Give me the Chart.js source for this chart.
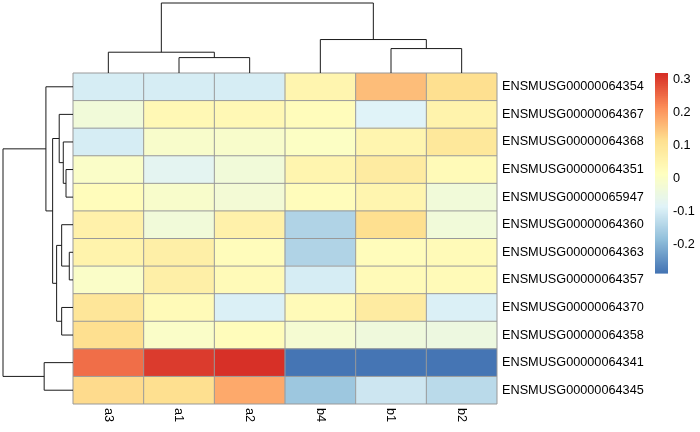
<!DOCTYPE html>
<html>
<head>
<meta charset="utf-8">
<script src="https://cdn.jsdelivr.net/npm/chart.js@4.4.0/dist/chart.umd.min.js"></script>
<style>
  body { margin: 0; background: #fff; }
  #wrap { width: 700px; height: 432px; }
</style>
</head>
<body>
<div id="wrap"><canvas id="heatmap" width="700" height="432"></canvas></div>
<script>
// column order as clustered
const samples = ['a3', 'a1', 'a2', 'b4', 'b1', 'b2'];
// row order as clustered, top to bottom
const genes = [
  'ENSMUSG00000064354', 'ENSMUSG00000064367', 'ENSMUSG00000064368', 'ENSMUSG00000064351',
  'ENSMUSG00000065947', 'ENSMUSG00000064360', 'ENSMUSG00000064363', 'ENSMUSG00000064357',
  'ENSMUSG00000064370', 'ENSMUSG00000064358', 'ENSMUSG00000064341', 'ENSMUSG00000064345'
];

// values per sample, same order as genes
const a3 = [-0.096, -0.026, -0.094, 0.004, 0.023, 0.059, 0.053, 0.001, 0.101, 0.117, 0.252, 0.122];
const a1 = [-0.096, 0.035, -0.002, -0.074, -0.002, -0.026, 0.065, 0.065, 0.029, 0.001, 0.301, 0.119];
const a2 = [-0.096, 0.035, -0.002, -0.026, -0.020, 0.059, 0.023, 0.029, -0.092, 0.023, 0.319, 0.180];
const b4 = [0.047, 0.023, 0.010, 0.047, 0.023, -0.144, -0.141, -0.098, 0.029, -0.017, -0.286, -0.165];
const b1 = [0.158, -0.086, 0.047, 0.077, 0.047, 0.117, 0.023, 0.029, 0.083, -0.032, -0.286, -0.105];
const b2 = [0.117, 0.053, 0.095, 0.029, -0.026, -0.026, 0.029, 0.029, -0.092, -0.038, -0.286, -0.129];

// dendrograms, hclust style: negative = leaf (1-based display position), positive = earlier merge
const colMerge = [
  [-2, -3, 0.22],
  [-1, 1, 0.297],
  [-5, -6, 0.349],
  [-4, 3, 0.478],
  [2, 4, 1.0]
];
const rowMerge = [
  [-7, -8, 0.053],
  [-4, -5, 0.10],
  [-3, 2, 0.139],
  [-6, 1, 0.162],
  [-9, -10, 0.162],
  [-2, 3, 0.197],
  [4, 5, 0.234],
  [6, 7, 0.291],
  [-1, 8, 0.387],
  [-11, -12, 0.412],
  [9, 10, 1.0]
];

const legendTicks = [0.3, 0.2, 0.1, 0, -0.1, -0.2];

const columns = [a3, a1, a2, b4, b1, b2];
const allVals = columns.flat();
const vmin = Math.min(...allVals);
const vmax = Math.max(...allVals);

// rev(brewer.pal(7, "RdYlBu")) ramped to 100 colours
const pal = ['#4575B4', '#91BFDB', '#E0F3F8', '#FFFFBF', '#FEE090', '#FC8D59', '#D73027'];
function hexRgb(h) {
  return [parseInt(h.slice(1, 3), 16), parseInt(h.slice(3, 5), 16), parseInt(h.slice(5, 7), 16)];
}
const palRgb = pal.map(hexRgb);
const ramp = [];
for (let i = 0; i < 100; i++) {
  const t = i / 99 * (pal.length - 1);
  const k = Math.min(Math.floor(t), pal.length - 2);
  const f = t - k;
  const c = palRgb[k].map((v, j) => Math.round(v + (palRgb[k + 1][j] - v) * f));
  ramp.push('rgb(' + c.join(',') + ')');
}
function colorFor(v) {
  const t = (v - vmin) / (vmax - vmin);
  return ramp[Math.max(0, Math.min(99, Math.floor(t * 100)))];
}

// one stacked dataset per gene, bottom row first
const datasets = genes.map((g, r) => r).reverse().map(r => ({
  label: genes[r],
  data: samples.map(() => 1),
  backgroundColor: columns.map(col => colorFor(col[r])),
  borderWidth: 0,
  barPercentage: 1,
  categoryPercentage: 1
}));

const FONT = '12.7px "Liberation Sans", Arial, sans-serif';
const treePx = 70;

function layoutTree(merge) {
  const nodes = [];
  const get = id => id < 0 ? { pos: -id - 1, h: 0 } : nodes[id - 1];
  merge.forEach(([l, r, h]) => {
    const a = get(l), b = get(r);
    nodes.push({ pos: (a.pos + b.pos) / 2, h: h, kids: [a, b] });
  });
  return nodes;
}

const extras = {
  id: 'extras',
  afterDatasetsDraw(chart) {
    const { ctx, chartArea: area, scales: { x, y } } = chart;
    ctx.save();

    // cell borders
    ctx.strokeStyle = '#999999';
    ctx.lineWidth = 1;
    ctx.beginPath();
    for (let i = 0; i <= samples.length; i++) {
      const px = x.getPixelForValue(i - 0.5);
      ctx.moveTo(px, area.top); ctx.lineTo(px, area.bottom);
    }
    for (let j = 0; j <= genes.length; j++) {
      const py = y.getPixelForValue(j);
      ctx.moveTo(area.left, py); ctx.lineTo(area.right, py);
    }
    ctx.stroke();

    // dendrograms
    ctx.strokeStyle = '#1a1a1a';
    ctx.lineWidth = 1;
    const top = y.getPixelForValue(genes.length);
    const left = x.getPixelForValue(-0.5);
    const colX = p => x.getPixelForValue(p);
    const colY = h => top - h * treePx;
    ctx.beginPath();
    layoutTree(colMerge).forEach(n => {
      const [a, b] = n.kids;
      ctx.moveTo(colX(a.pos), colY(a.h)); ctx.lineTo(colX(a.pos), colY(n.h));
      ctx.lineTo(colX(b.pos), colY(n.h)); ctx.lineTo(colX(b.pos), colY(b.h));
    });
    const rowY = p => y.getPixelForValue(genes.length - p - 0.5);
    const rowX = h => left - h * treePx;
    layoutTree(rowMerge).forEach(n => {
      const [a, b] = n.kids;
      ctx.moveTo(rowX(a.h), rowY(a.pos)); ctx.lineTo(rowX(n.h), rowY(a.pos));
      ctx.lineTo(rowX(n.h), rowY(b.pos)); ctx.lineTo(rowX(b.h), rowY(b.pos));
    });
    ctx.stroke();

    // labels
    ctx.fillStyle = '#000';
    ctx.font = FONT;
    ctx.textBaseline = 'middle';
    ctx.textAlign = 'left';
    genes.forEach((g, r) => {
      ctx.fillText(g, area.right + 5, y.getPixelForValue(genes.length - r - 0.5));
    });
    samples.forEach((s, i) => {
      ctx.save();
      ctx.translate(x.getPixelForValue(i), area.bottom + 4);
      ctx.rotate(Math.PI / 2);
      ctx.fillText(s, 0, 0);
      ctx.restore();
    });

    // colour legend
    const lx = 655, lw = 13, ltop = area.top, lh = 200;
    const lbot = ltop + lh;
    for (let i = 0; i < 100; i++) {
      ctx.fillStyle = ramp[i];
      ctx.fillRect(lx, lbot - (i + 1) * lh / 100, lw, lh / 100 + 0.6);
    }
    ctx.fillStyle = '#000';
    legendTicks.forEach(v => {
      const py = lbot - (v - vmin) / (vmax - vmin) * lh;
      ctx.fillText(String(v), lx + lw + 5, py);
    });
    ctx.restore();
  }
};

new Chart(document.getElementById('heatmap'), {
  type: 'bar',
  data: { labels: samples, datasets: datasets },
  options: {
    responsive: false,
    animation: false,
    layout: { padding: { left: 73, top: 73, right: 203, bottom: 28 } },
    plugins: { legend: { display: false }, tooltip: { enabled: false } },
    scales: {
      x: { display: false, stacked: true },
      y: { display: false, stacked: true, min: 0, max: genes.length }
    }
  },
  plugins: [extras]
});
</script>
</body>
</html>
